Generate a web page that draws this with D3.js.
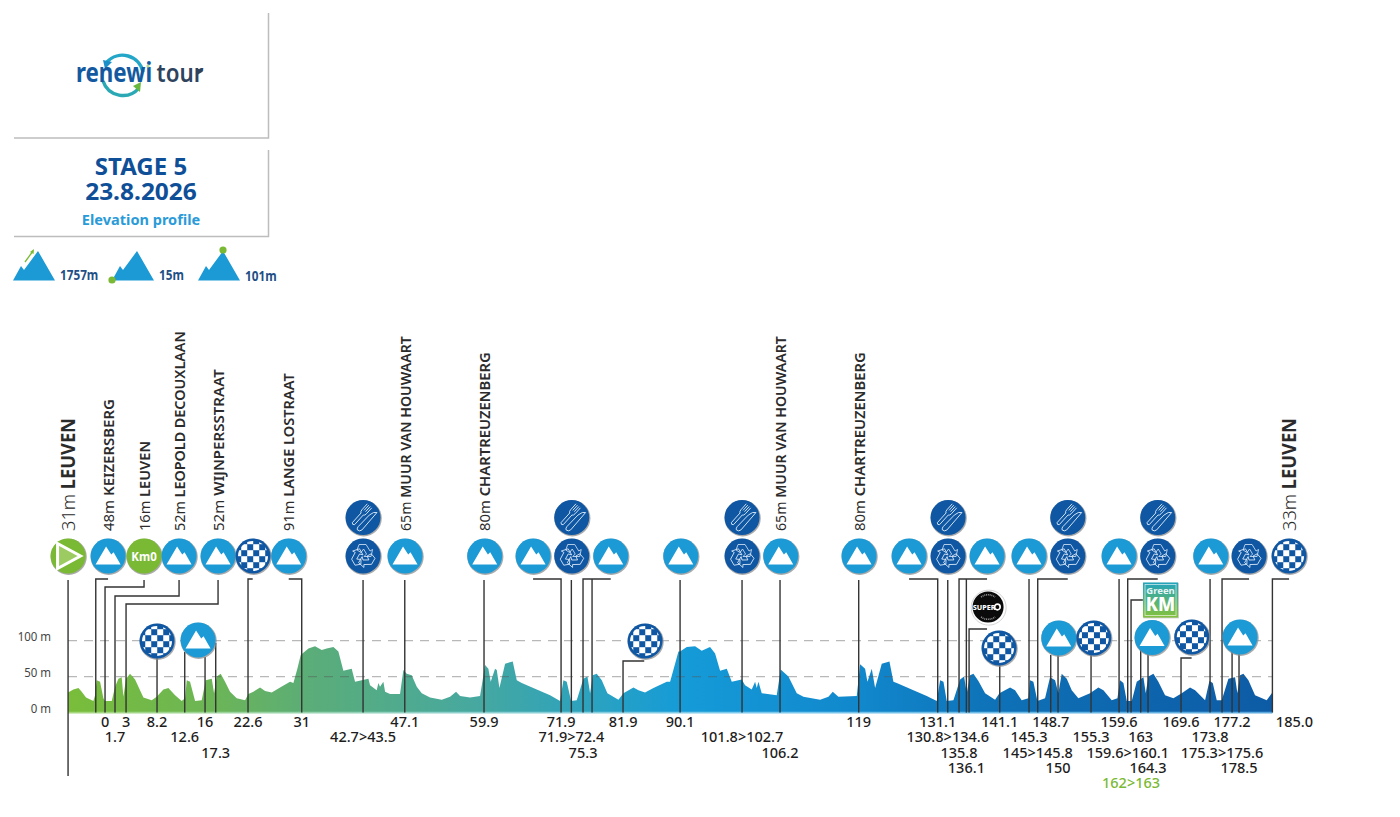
<!DOCTYPE html>
<html><head><meta charset="utf-8">
<script src="https://cdn.jsdelivr.net/npm/d3@7"></script>
<style>html,body{margin:0;background:#fff}svg{display:block}text{font-family:"Noto Sans",sans-serif}</style>
</head><body><svg id="c" width="1400" height="817"></svg>
<script>
// ---------- data ----------
const profileKm=[-5.86,-5.02,-4.22,-3.70,-3.01,-1.85,-1.58,-1.32,-0.79,-0.26,0,1.06,1.59,2.12,2.64,2.91,3.33,3.96,4.76,5.29,6.08,7.40,8.19,9.25,10.04,11.10,12.15,12.68,12.95,13.47,14.27,15.32,15.96,16.91,17.28,17.70,18.33,19.02,19.81,20.87,22.19,22.72,23.51,24.57,25.36,26.42,27.74,29.32,29.85,30.48,31.01,32.23,33.28,34.34,35.13,36.19,36.98,37.77,39.09,39.62,40.68,41.74,42.0,43.05,43.32,43.58,44.11,44.38,45.17,46.75,47.28,47.81,48.6,49.4,50.19,51.51,53.36,54.68,55.63,56.26,57.85,59.43,60.23,60.75,61.12,61.81,62.08,62.5,63.4,64.61,65.25,66.04,68.42,70.53,72.11,72.64,73.17,73.86,74.75,75.81,76.45,76.87,77.29,77.92,78.72,79.61,81.36,82.15,83.74,84.53,85.58,86.91,89.02,89.55,90.34,90.87,91.13,92.19,93.51,94.56,95.88,96.68,97.47,98.53,99.32,100.9,101.43,102.49,103.02,103.28,103.55,104.07,106.45,107.08,108.3,109.62,110.68,113.32,114.64,115.33,116.22,119.13,119.66,120.45,120.82,121.51,122.04,123.09,124.31,124.94,125.47,128.11,130.22,131.81,132.34,132.87,133.39,134.45,135.51,136.14,136.56,137.09,137.62,138.41,139.47,141.05,141.74,143.43,144.22,145.27,146.33,146.59,147.12,147.76,148.97,149.76,150.56,151.08,151.61,152.41,153.2,154.25,156.1,157.42,158.22,159.54,160.44,160.86,161.39,161.92,162.71,163.5,164.56,164.93,165.35,166.14,166.93,167.99,169.31,170.63,171.95,172.75,174.33,175.02,175.55,176.18,176.97,178.03,179.08,179.45,179.88,180.4,181.2,182.25,184.1,184.9,185];
const profileElev=[28,32,34,29,21,16,24,45,43,20,16,16,36,47,49,22,47,54,46,36,21,17,22,32,34,24,16,20,45,43,16,17,45,47,27,50,54,43,29,20,17,26,29,35,30,28,35,43,41,61,80,89,92,87,89,91,85,58,61,43,45,47,38,31,41,36,43,29,26,26,59,54,52,36,27,21,18,22,29,23,21,23,66,61,43,61,59,34,68,71,45,41,32,24,16,45,43,16,17,47,50,27,52,54,45,27,18,27,35,31,28,34,43,43,68,85,85,91,92,86,91,82,58,61,43,46,38,32,43,34,43,27,24,60,50,27,22,18,22,29,22,23,67,61,43,61,34,68,71,43,41,31,23,16,45,43,16,17,46,50,27,52,54,44,27,18,27,35,31,17,20,45,43,16,20,49,45,27,54,47,31,20,27,35,31,17,20,45,41,16,16,43,49,27,50,54,43,24,20,27,35,31,17,44,41,17,17,47,49,27,52,54,45,24,17,27,27];
const yTicks=[0,50,100];
const markerKm=[-5.86,-1.47,0,1.58,3.33,8.24,12.63,15.85,17.54,22.66,31.17,40.89,47.5,60.06,72.27,73.9,75.75,77.18,82.09,91.13,100.95,106.97,119.44,131.96,133.55,135.34,136.5,136.93,141.79,146.43,147.81,149.87,151.03,156.26,160.7,162.07,162.6,164.13,165.29,170.52,175.12,177.02,178.61,179.71,185];
const markerLabels=["","","0","1.7","3","8.2","12.6","16","17.3","22.6","31","42.7>43.5","47.1","59.9","71.9","71.9>72.4","75.3","","81.9","90.1","101.8>102.7","106.2","119","131.1","130.8>134.6","135.8","136.1","","141.1","145.3","145>145.8","148.7","150","155.3","159.6","159.6>160.1","162>163","163","164.3","169.6","173.8","175.3>175.6","177.2","178.5","185.0"];
const placeKm=[-5.86,0.48,6.18,11.73,17.91,29.11,47.54,60.17,107.08,119.49,187.64];
const placeAlt=["31m","48m","16m","52m","52m","91m","65m","80m","65m","80m","33m"];
const placeName=["LEUVEN","KEIZERSBERG","LEUVEN","LEOPOLD DECOUXLAAN","WIJNPERSSTRAAT","LANGE LOSTRAAT","MUUR VAN HOUWAART","CHARTREUZENBERG","MUUR VAN HOUWAART","CHARTREUZENBERG","LEUVEN"];
const topIconKm=[-5.86,0.48,6.18,11.73,17.91,23.45,29.11,40.89,47.54,60.17,67.83,73.96,80.14,91.24,100.95,107.08,119.49,127.42,133.6,139.78,146.43,152.57,160.7,166.83,175.23,181.3,187.64];
const topIconType=["start","climb","km0","climb","climb","sprint","climb","recycle","climb","climb","climb","recycle","climb","climb","recycle","climb","climb","climb","recycle","climb","climb","recycle","climb","recycle","climb","recycle","sprint"];
const foodKm=[40.89,73.96,100.95,133.6,152.57,166.83];
const lowIconKm=[8.24,14.74,85.58,141.68,151.14,156.69,165.93,172.22,179.87];
const lowIconType=["sprint","climb","sprint","sprint","climb","sprint","climb","sprint","climb"];
const legendValues=["1757m","15m","101m"];
const titleLines=["STAGE 5","23.8.2026"];
const subtitle="Elevation profile";

// ---------- layout (not data) ----------
const labelRow=[0,0,1,2,1,1,2,1,3,1,1,2,1,1,1,2,3,0,1,1,2,3,1,1,2,3,4,0,1,2,3,1,4,2,1,3,5,2,4,1,2,3,1,4,1];
const leaderTop=[580,579,587,596,604,657,652,657,643,579,579,580,580,580,579,580,579,579,661,580,580,580,580,579,580,579,579,629,665,579,579,655,655,655,579,579,600,650,650,658,579,579,650,650,579];
const leaderToKm=[null,0.48,6.18,11.73,17.91,null,null,null,null,23.4,29.11,null,null,null,67.83,null,80.14,null,85.45,null,null,null,null,127.42,null,139.78,null,139.78,null,null,152.57,null,null,null,null,166.83,164.47,null,null,172.2,null,181.3,null,null,187.64];
const placeFit=[113,132,90,200,162,158,195,179,195,179,113];

const svg=d3.select("#c");
const x=d3.scaleLinear().domain([-5.87,185]).range([68,1272.4]);
const y=d3.scaleLinear().domain([0,100]).range([712.6,640.6]);
const BLUE="#1c9ad6",NAVY="#0f57a3",GREEN="#7ab933",INK="#2b2b2b";

const defs=svg.append("defs");
const grad=defs.append("linearGradient").attr("id","prof").attr("gradientUnits","userSpaceOnUse").attr("x1",68).attr("x2",1272).attr("y1",0).attr("y2",0);
[[0,"#79bd3a"],[.12,"#6cb556"],[.2,"#5bad78"],[.34,"#46a8a0"],[.45,"#27a1c4"],[.51,"#159bd8"],[.66,"#1187cc"],[.78,"#0e70b6"],[1,"#0d5ba5"]]
 .forEach(s=>grad.append("stop").attr("offset",s[0]).attr("stop-color",s[1]));
const grad2=defs.append("linearGradient").attr("id","base").attr("gradientUnits","userSpaceOnUse").attr("x1",68).attr("x2",1272).attr("y1",0).attr("y2",0);
[[0,"#a6d77a"],[.3,"#8fd0c8"],[.55,"#7ccbee"],[1,"#5aa8dc"]].forEach(s=>grad2.append("stop").attr("offset",s[0]).attr("stop-color",s[1]));
const gg=defs.append("linearGradient").attr("id","gkm").attr("x1",0).attr("x2",0).attr("y1",0).attr("y2",1);
[[0,"#22a3bd"],[1,"#85c23c"]].forEach(s=>gg.append("stop").attr("offset",s[0]).attr("stop-color",s[1]));
const lg=defs.append("linearGradient").attr("id","logoG").attr("gradientUnits","userSpaceOnUse").attr("x1",78).attr("x2",150).attr("y1",0).attr("y2",0);
[[0,"#14599f"],[.45,"#1b9ad0"],[.75,"#38ae9a"],[1,"#7ab933"]].forEach(s=>lg.append("stop").attr("offset",s[0]).attr("stop-color",s[1]));
defs.append("clipPath").attr("id","chk").append("circle").attr("r",15);

function T(g,px,py,str,o={}){
  const t=g.append("text").attr("transform",`translate(${px},${py}) rotate(${o.rot||0}) scale(${o.sx||1},1)`)
    .attr("text-anchor",o.anchor||"middle").attr("font-size",o.size||14).attr("font-weight",o.weight||400).attr("fill",o.fill||INK);
  if(str!==null)t.text(str);
  return t;
}

// panels
const pan=svg.append("g").attr("fill","none").attr("stroke","#bdbdbd").attr("stroke-width",1.5);
pan.append("path").attr("d","M14,138H268.5V13");
pan.append("path").attr("d","M14,236.5H268.5V150");

// logo
const logo=svg.append("g");
logo.append("path").attr("d","M107,62A21,21 0 0 1 143,72").attr("fill","none").attr("stroke","#24a6c8").attr("stroke-width",3.4);
logo.append("path").attr("d","M103,81A21,21 0 0 0 139,88").attr("fill","none").attr("stroke","#2aa9b4").attr("stroke-width",3.4);
logo.append("path").attr("d","M103,60L112,62L105,69Z").attr("fill","#1b8fc8");
logo.append("path").attr("d","M141,82L140,92L133,86Z").attr("fill","#6ab83e");
T(logo,114,82,"renewi",{size:26,weight:700,fill:"url(#logoG)",sx:.86});
T(logo,180,82,"tour",{size:26,weight:600,fill:"#2e435e",sx:.86});
logo.append("path").attr("d","M197,68L203,71.5L197,75Z").attr("fill","#2e435e");
logo.append("circle").attr("cx",148).attr("cy",66).attr("r",1.6).attr("fill","#b7dc8f");

// title
T(svg,141,175,titleLines[0],{size:24,weight:700,fill:"#0f4f97",sx:1});
T(svg,141,200,titleLines[1],{size:24,weight:700,fill:"#0f4f97",sx:1.02});
T(svg,141,225,subtitle,{size:15,weight:700,fill:"#2a9bd8",sx:.97});

// legend
function peak(g,x0){g.append("path").attr("d",`M${x0},280.5L${x0+8},266L${x0+11},270L${x0+25},251L${x0+42},280.5Z`).attr("fill",BLUE);}
const leg=svg.append("g");
peak(leg,13);peak(leg,112);peak(leg,198);
leg.append("path").attr("d","M25,262L33,251").attr("stroke",GREEN).attr("stroke-width",1.3);
leg.append("path").attr("d","M34,249L33.5,254L30,252Z").attr("fill",GREEN);
leg.append("circle").attr("cx",112).attr("cy",280).attr("r",3.6).attr("fill",GREEN);
leg.append("circle").attr("cx",223).attr("cy",250).attr("r",3.6).attr("fill",GREEN);
[[60,280],[159,280],[245,281]].forEach((p,i)=>T(leg,p[0],p[1],legendValues[i],{size:14,weight:700,fill:"#1f4f86",anchor:"start",sx:.84}));

// profile
const pts=d3.zip(profileKm,profileElev);
svg.append("path").datum(pts).attr("fill","url(#prof)")
  .attr("d",d3.area().x(d=>x(d[0])).y0(y(0)).y1(d=>y(d[1])));
svg.append("line").attr("x1",x(-5.87)).attr("x2",x(185)).attr("y1",y(0)).attr("y2",y(0)).attr("stroke","url(#base)").attr("stroke-width",1.6);

// grid
yTicks.filter(d=>d>0).forEach(d=>svg.append("line").attr("x1",68).attr("x2",1272).attr("y1",y(d)).attr("y2",y(d))
   .attr("stroke","#555").attr("stroke-opacity",.42).attr("stroke-width",1.2).attr("stroke-dasharray","9 7"));
const yAxis=svg.append("g").attr("transform","translate(51,-4)")
  .call(d3.axisLeft(y).tickValues(yTicks).tickSize(0).tickPadding(0).tickFormat(d=>d+" m"));
yAxis.select(".domain").remove();
yAxis.selectAll("text").attr("font-size",13.5).attr("fill","#444").attr("font-family",'"Noto Sans",sans-serif')
  .attr("transform","scale(.85,1)").attr("x",0).attr("text-anchor","end");
yAxis.selectAll(".tick").attr("transform",d=>`translate(0,${y(d)})`);

// leaders
const lead=svg.append("g").attr("fill","none").attr("stroke","#333").attr("stroke-width",1.4);
markerKm.forEach((k,i)=>{
  const px=x(k),top=leaderTop[i],to=leaderToKm[i];
  let d;
  if(i===0) d=`M${px},${top}V776`;
  else if(to===null) d=`M${px},${y(0)}V${top}`;
  else{
    const tx=x(to);
    d=`M${px},${y(0)}V${top}H${tx}`+((i>=2&&i<=4)?"V580":"");
  }
  lead.append("path").attr("d",d);
});

// km labels
const ROW=r=>722+15.25*(r-1)+5.2;
markerLabels.forEach((s,i)=>{
  if(!s)return;
  const px=s==="185.0"?x(185)+22:x(markerKm[i]);
  T(svg,px,ROW(labelRow[i]),s,{size:14.5,weight:500,sx:1,fill:s==="162>163"?"#7ab933":"#1d1d1d"});
});

// place names
placeName.forEach((n,i)=>{
  const big=i===0||i===10;
  const px=x(placeKm[i])+(big?7:5.5);
  const t=T(svg,px,531,null,{size:big?19:15,rot:-90,anchor:"start"});
  t.append("tspan").attr("font-weight",big?300:400).text(placeAlt[i]+" ");
  t.append("tspan").attr("font-weight",big?700:600).text(n);
  const sx=placeFit[i]/t.node().getComputedTextLength();
  t.attr("transform",`translate(${px},531) rotate(-90) scale(${sx},1)`);
});

// icons
function base(g,r,fill){
  g.append("circle").attr("r",r+.6).attr("cx",.6).attr("cy",.8).attr("fill","#8d8d8d").attr("opacity",.75);
  g.append("circle").attr("r",r).attr("fill",fill);
}
const drawers={
 climb(g){base(g,17.5,BLUE);g.append("path").attr("d","M-12.5,8.5L-2,-9.5L3.2,-1.5L5.5,-3.8L12.5,8.5Z").attr("fill","#fff");},
 sprint(g){
  base(g,17.5,NAVY);
  const c=g.append("g").attr("clip-path","url(#chk)");
  d3.range(-3,3).forEach(a=>d3.range(-3,3).forEach(b=>{
    if((a+b+6)%2===0)c.append("rect").attr("x",a*6+.2).attr("y",b*6+.2).attr("width",6).attr("height",6).attr("fill","#fff");
  }));
 },
 recycle(g){
  base(g,17.5,NAVY);
  [0,120,240].forEach(a=>{
    g.append("path").attr("transform",`rotate(${a})`)
     .attr("d","M-4,-11.5L3,-11.5L7,-5L9.5,-6.5L8,0.5L1,0.5L3.5,-2L0.5,-7L-2,-3.5L-6,-6Z")
     .attr("fill","none").attr("stroke","#dbe9f7").attr("stroke-width",.8);
  });
 },
 food(g){
  base(g,17.5,NAVY);
  const w=g.append("g").attr("fill","none").attr("stroke","#d6e6f6").attr("stroke-width",.9).attr("transform","rotate(42)");
  w.append("path").attr("d","M-6,-13L-6,-5Q-6,-2.5 -4.5,-2L-4.5,11Q-3,13 -1.5,11L-1.5,-2Q0,-2.5 0,-5L0,-13M-4,-13V-6M-2,-13V-6");
  w.append("path").attr("d","M4,13Q2.5,12 2.5,10L3,-6Q4,-12 7,-13L7.5,10Q7,13 4,13Z");
 },
 start(g){base(g,17.5,GREEN);g.append("path").attr("d","M-10.5,-12.5L12.5,0L-10.5,12.5Z").attr("fill","#9ccb62").attr("stroke","#fff").attr("stroke-width",3);},
 km0(g){base(g,17.5,GREEN);T(g,0,4.5,"Km0",{size:12.5,weight:700,fill:"#fff",sx:.92});},
 super(g){
  g.append("circle").attr("r",17.5).attr("cx",.6).attr("cy",.6).attr("fill","#fff").attr("stroke","#c9c9c9").attr("stroke-width",.8);
  g.append("circle").attr("r",15.5).attr("fill","#0b0b0b");
  T(g,-4,2.8,"SUPER",{size:7.6,weight:800,fill:"#fff",sx:.95});
  g.append("circle").attr("cx",9.3).attr("cy",0).attr("r",2.8).attr("fill","none").attr("stroke","#fff").attr("stroke-width",1.7);
  g.append("path").attr("d","M-7,-10A12,12 0 0 1 7,-10M-7,10A12,12 0 0 0 7,10").attr("fill","none").attr("stroke","#999").attr("stroke-width",1.6).attr("stroke-dasharray","1 .8");
 },
 green(g){
  g.append("rect").attr("x",-17.2).attr("y",-17.2).attr("width",35.5).attr("height",35.5).attr("fill","#999").attr("opacity",.6);
  g.append("rect").attr("x",-17.5).attr("y",-17.5).attr("width",35).attr("height",35).attr("fill","url(#gkm)");
  g.append("rect").attr("x",-15.5).attr("y",-15.5).attr("width",31).attr("height",31).attr("fill","none").attr("stroke","#fff").attr("stroke-opacity",.75).attr("stroke-width",.8);
  T(g,0,-6,"Green",{size:9.5,weight:700,fill:"#e8f5f3"});
  T(g,0,11,"KM",{size:19,weight:800,fill:"#fff",sx:.95});
 }
};
function icon(px,py,type){const g=svg.append("g").attr("transform",`translate(${px},${py})`);drawers[type](g);}
topIconKm.forEach((k,i)=>icon(x(k),556,topIconType[i]));
foodKm.forEach(k=>icon(x(k),517.5,"food"));
const lowY=[641,640,641,648,638,638,637.5,637,637];
lowIconKm.forEach((k,i)=>icon(x(k),lowY[i],lowIconType[i]));
icon(x(139.94),607,"super");
icon(x(167.27),600,"green");
</script></body></html>
